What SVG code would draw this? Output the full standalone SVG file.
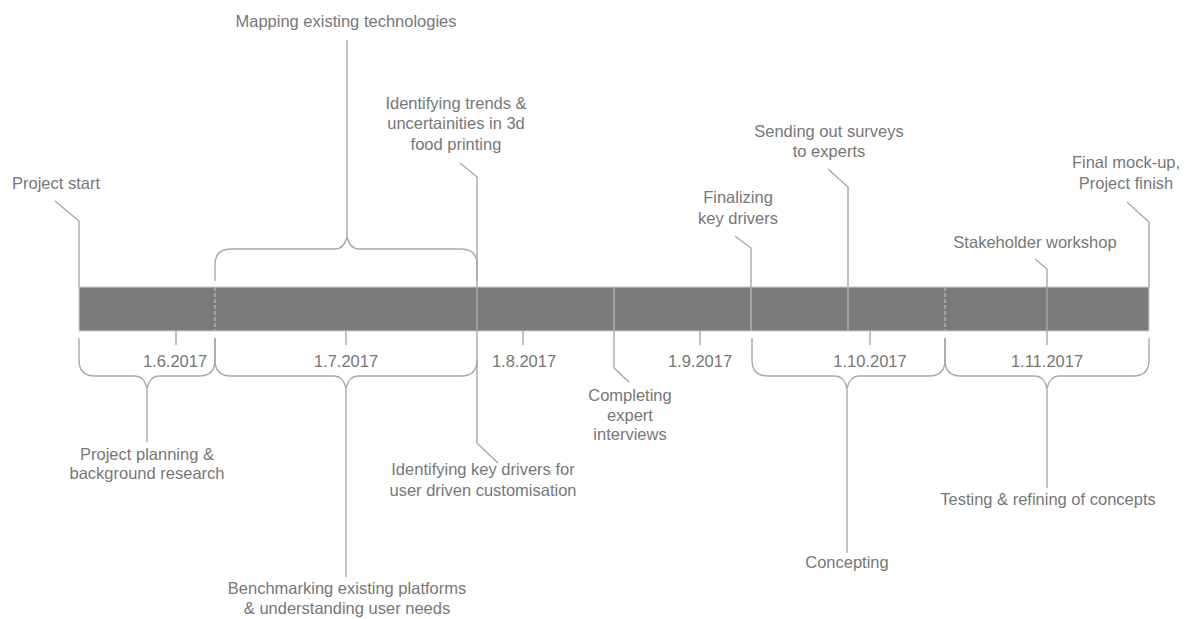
<svg xmlns="http://www.w3.org/2000/svg" width="1194" height="619" viewBox="0 0 1194 619">
  <style>
    text { font-family: "Liberation Sans", Arial, sans-serif; font-size: 16.5px; fill: #777; }
    .c { text-anchor: middle; }
    .line { fill: none; stroke: #a8a8a8; stroke-width: 1.4; }
    .div { stroke: #b8b8b8; stroke-width: 1.3; }
    .dash { stroke-dasharray: 4 2; }
  </style>
  <rect width="1194" height="619" fill="#fff"/>

  <!-- timeline bar -->
  <g id="timeline">
    <rect x="79" y="287" width="1070" height="44" fill="#7b7b7b" stroke="#cfcfcf" stroke-width="1"/>
    <line class="div dash" x1="215" y1="287" x2="215" y2="331"/>
    <line class="div" x1="614" y1="287" x2="614" y2="331"/>
    <line class="div" x1="751" y1="287" x2="751" y2="331"/>
    <line class="div" x1="848" y1="287" x2="848" y2="331"/>
    <line class="div dash" x1="945" y1="287" x2="945" y2="331"/>
    <!-- month ticks -->
    <g class="line">
      <line x1="176" y1="331" x2="176" y2="345"/>
      <line x1="346" y1="331" x2="346" y2="345"/>
      <line x1="523" y1="331" x2="523" y2="345"/>
      <line x1="700" y1="331" x2="700" y2="345"/>
      <line x1="870" y1="331" x2="870" y2="345"/>
    </g>
    <text class="c" x="175" y="367">1.6.2017</text>
    <text class="c" x="346" y="367">1.7.2017</text>
    <text class="c" x="524" y="367">1.8.2017</text>
    <text class="c" x="700" y="367">1.9.2017</text>
    <text class="c" x="870" y="367">1.10.2017</text>
    <text class="c" x="1047" y="367">1.11.2017</text>
  </g>

  <!-- connectors: braces and leader lines -->
  <g id="connectors" class="line">
    <!-- braces -->
    <path d="M215,281 V265 Q215,249 231,249 H335 Q344,249 347,237 Q350,249 359,249 H461 Q477,249 477,265 V281 M347,237 V40"/>
    <path d="M79,338 V360 Q79,376 95,376 H135 Q144,376 147,388 Q150,376 159,376 H199 Q215,376 215,360 V338 M147,388 V442"/>
    <path d="M215,338 V360 Q215,376 231,376 H334 Q343,376 346,388 Q349,376 358,376 H461 Q477,376 477,360 M346,388 V577"/>
    <path d="M752,338 V360 Q752,376 768,376 H835 Q844,376 847,388 Q850,376 859,376 H929 Q945,376 945,360 V338 M847,388 V553"/>
    <path d="M945,338 V360 Q945,376 961,376 H1035 Q1044,376 1047,388 Q1050,376 1059,376 H1133 Q1149,376 1149,360 V338 M1047,388 V488"/>
    <!-- leaders -->
    <path d="M55,201 L79,221 V287"/>
    <path d="M460,163 L477,177 V443 L498,463"/>
    <path d="M614,331 V368 L629,382"/>
    <path d="M735,236 L751,248 V287"/>
    <path d="M828,169 L848,187 V287"/>
    <path d="M1035,259 L1047,269 V345"/>
    <path d="M1127,202 L1149,222 V287"/>
  </g>

  <g id="project-start"><text x="12" y="189">Project start</text></g>
  <g id="mapping"><text class="c" x="346" y="27">Mapping existing technologies</text></g>
  <g id="trends">
    <text class="c" x="456" y="109">Identifying trends &amp;</text>
    <text class="c" x="456" y="129">uncertainities in 3d</text>
    <text class="c" x="456" y="150">food printing</text>
  </g>
  <g id="finalizing">
    <text class="c" x="738" y="203">Finalizing</text>
    <text class="c" x="738" y="224">key drivers</text>
  </g>
  <g id="surveys">
    <text class="c" x="829" y="137">Sending out surveys</text>
    <text class="c" x="829" y="157">to experts</text>
  </g>
  <g id="stakeholder"><text class="c" x="1035" y="248">Stakeholder workshop</text></g>
  <g id="finish">
    <text class="c" x="1126" y="168">Final mock-up,</text>
    <text class="c" x="1126" y="189">Project finish</text>
  </g>
  <g id="planning">
    <text class="c" x="147" y="460">Project planning &amp;</text>
    <text class="c" x="147" y="479">background research</text>
  </g>
  <g id="benchmarking">
    <text class="c" x="347" y="594">Benchmarking existing platforms</text>
    <text class="c" x="347" y="614">&amp; understanding user needs</text>
  </g>
  <g id="key-drivers">
    <text class="c" x="483" y="475">Identifying key drivers for</text>
    <text class="c" x="483" y="496">user driven customisation</text>
  </g>
  <g id="interviews">
    <text class="c" x="630" y="401">Completing</text>
    <text class="c" x="630" y="421">expert</text>
    <text class="c" x="630" y="440">interviews</text>
  </g>
  <g id="concepting"><text class="c" x="847" y="568">Concepting</text></g>
  <g id="testing"><text class="c" x="1048" y="505">Testing &amp; refining of concepts</text></g>
</svg>
